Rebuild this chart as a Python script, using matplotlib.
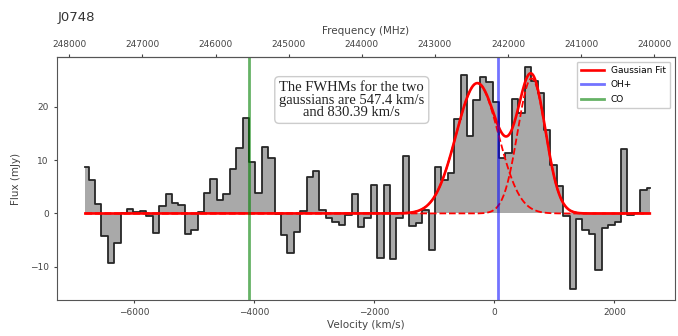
import numpy as np
import matplotlib
matplotlib.use('Agg')
import matplotlib.pyplot as plt

# spectrum of J0748, one value per channel (mJy)
flux = [8.7, 6.2, 1.7, -4.2, -9.2, -5.5, 0.1, 0.9, 0.3, 0.4,
        -0.4, -3.7, 1.4, 3.7, 1.9, 1.5, -3.9, -3.0, 0.3, 3.9,
        6.5, 2.6, 3.6, 8.3, 12.3, 17.9, 9.6, 3.8, 12.5, 10.3,
        -0.1, -4.1, -7.4, -3.5, 0.5, 6.9, 7.9, 0.6, -0.9, -1.6,
        -2.2, -0.3, 3.7, -2.5, -0.9, 5.4, -8.3, 5.4, -8.6, -0.9,
        10.7, -2.4, -1.8, 0.6, -6.9, 8.7, 6.2, 7.6, 17.7, 26.0,
        14.5, 21.3, 25.5, 24.7, 20.8, 10.3, 11.3, 21.5, 18.8, 27.5,
        24.8, 22.5, 15.7, 9.0, 5.1, -0.5, -14.2, -1.0, -3.0, -3.9,
        -10.6, -2.7, -2.1, -1.6, 12.1, -0.2, 0.1, 4.4, 4.8]

# channel grid (km/s)
v_start = -6817.0
chan_width = 106.9
velocity = v_start + chan_width * np.arange(len(flux))

# two gaussian fit
amp = [24.4, 25.3]
centre = [-285.0, 620.0]
fwhm = [830.39, 547.4]

# line positions (km/s)
co_vel = -4083
ohp_vel = 60

# velocity -> observed frequency for the top axis
f_at_zero = 242186.0
mhz_per_kms = -0.8208
freq_ticks = [248000, 247000, 246000, 245000, 244000, 243000, 242000, 241000, 240000]

text_col = '#444444'
plt.rcParams['axes.edgecolor'] = '#555555'
plt.rcParams['xtick.color'] = text_col
plt.rcParams['ytick.color'] = text_col

fig = plt.figure(figsize=(6.78, 3.36), dpi=100)
ax = fig.add_axes([57 / 678, 36 / 336, 618 / 678, 243 / 336])

ax.fill_between(velocity, flux, 0, step='mid', color='#a9a9a9', lw=0)
ax.step(velocity, flux, where='mid', color='#262626', lw=1.3)

vfit = np.linspace(velocity[0], velocity[-1], 600)
comps = []
for a, c, w in zip(amp, centre, fwhm):
    s = w / 2.3548
    comps.append(a * np.exp(-(vfit - c) ** 2 / (2 * s ** 2)))
ax.plot(vfit, comps[0] + comps[1], color='red', lw=1.9, label='Gaussian Fit')
ax.plot(vfit, comps[0], color='red', ls='--', lw=1.3)
ax.plot(vfit, comps[1], color='red', ls='--', lw=1.3)

ax.axvline(ohp_vel, color='blue', alpha=0.55, lw=2, label='OH+')
ax.axvline(co_vel, color='green', alpha=0.6, lw=2, label='CO')

ax.set_xlim(-7290, 3010)
ax.set_ylim(-16.2, 29.3)
ax.set_yticks([-10, 0, 10, 20])
ax.tick_params(labelsize=6.5, length=2.5)
ax.set_xlabel('Velocity (km/s)', fontsize=7.5, color=text_col, labelpad=2)
ax.set_ylabel('Flux (mJy)', fontsize=7.5, color=text_col, labelpad=6)

ax.text(0.477, 0.823, 'The FWHMs for the two\ngaussians are 547.4 km/s\nand 830.39 km/s',
        transform=ax.transAxes, ha='center', va='center', fontsize=10.5,
        family='Liberation Serif', color='#222222', linespacing=0.95,
        bbox=dict(boxstyle='round', facecolor='white', edgecolor='#cccccc'))

ax.legend(loc='upper right', fontsize=6.5, handlelength=2.5, framealpha=1,
          edgecolor='#cccccc', borderpad=0.5, labelspacing=0.6)

secax = ax.secondary_xaxis('top', functions=(lambda v: f_at_zero + mhz_per_kms * v,
                                             lambda f: (f - f_at_zero) / mhz_per_kms))
secax.set_xticks(freq_ticks)
secax.tick_params(labelsize=6.5, length=2.5)
secax.set_xlabel('Frequency (MHz)', fontsize=7.5, color=text_col, labelpad=4)

fig.text(58 / 678, 1 - 17 / 336, 'J0748', fontsize=9.5, color='#333333', va='center')

fig.savefig('out.png', dpi=100)
